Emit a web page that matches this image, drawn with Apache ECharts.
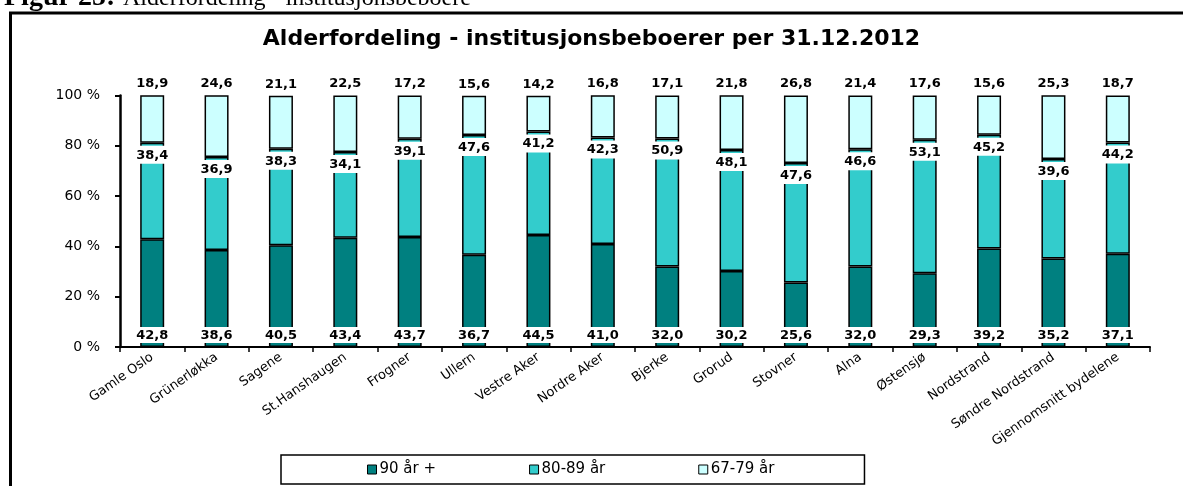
<!DOCTYPE html>
<html>
<head>
<meta charset="utf-8">
<script src="https://cdn.jsdelivr.net/npm/echarts@6/dist/echarts.min.js"></script>
<style>
  html, body { margin: 0; padding: 0; background: #fff; }
  #chart { width: 1183px; height: 486px; }
</style>
</head>
<body>
<div id="chart"></div>
<script>
// bydeler
var categories = ['Gamle Oslo', 'Grünerløkka', 'Sagene', 'St.Hanshaugen', 'Frogner', 'Ullern',
  'Vestre Aker', 'Nordre Aker', 'Bjerke', 'Grorud', 'Stovner', 'Alna', 'Østensjø',
  'Nordstrand', 'Søndre Nordstrand', 'Gjennomsnitt bydelene'];
// andel i prosent per aldersgruppe
var v90 = [42.8, 38.6, 40.5, 43.4, 43.7, 36.7, 44.5, 41.0, 32.0, 30.2, 25.6, 32.0, 29.3, 39.2, 35.2, 37.1];
var v80 = [38.4, 36.9, 38.3, 34.1, 39.1, 47.6, 41.2, 42.3, 50.9, 48.1, 47.6, 46.6, 53.1, 45.2, 39.6, 44.2];
var v67 = [18.9, 24.6, 21.1, 22.5, 17.2, 15.6, 14.2, 16.8, 17.1, 21.8, 26.8, 21.4, 17.6, 15.6, 25.3, 18.7];
var seriesNames = ['90 år +', '80-89 år', '67-79 år'];
var yTicks = [0, 20, 40, 60, 80, 100];

var font = 'DejaVu Sans';
// komma som desimaltegn
var fmt = function (p) { return p.value.toFixed(1).replace('.', ','); };
var lbl = {
  show: true,
  formatter: fmt,
  color: '#000',
  fontFamily: font,
  fontWeight: 'bold',
  fontSize: 13,
  lineHeight: 13
};

var chart = echarts.init(document.getElementById('chart'));
chart.setOption({
  backgroundColor: '#fff',
  animation: false,
  title: {
    text: 'Alderfordeling - institusjonsbeboerer per 31.12.2012',
    left: 'center',
    top: 28,
    padding: 0,
    textStyle: { fontFamily: font, fontWeight: 'bold', fontSize: 22, color: '#000' }
  },
  legend: {
    data: seriesNames,
    left: 281,
    top: 455,
    orient: 'horizontal',
    padding: [7, 90, 7, 86],
    itemGap: 93,
    itemWidth: 9,
    itemHeight: 9,
    icon: 'rect',
    borderColor: '#000',
    borderWidth: 1.5,
    itemStyle: { borderColor: '#000', borderWidth: 1 },
    textStyle: { fontFamily: font, fontSize: 15, color: '#000', padding: [0, 0, 0, -2] }
  },
  grid: { left: 120, right: 33, top: 95.5, bottom: 139 },
  xAxis: {
    type: 'category',
    data: categories,
    axisLine: { lineStyle: { color: '#000', width: 2 } },
    axisTick: { show: true, length: 5, lineStyle: { color: '#000', width: 1.5 } },
    axisLabel: { interval: 0, rotate: 35, margin: 9, color: '#000', fontFamily: font, fontSize: 13 }
  },
  yAxis: {
    type: 'value',
    min: yTicks[0],
    max: yTicks[yTicks.length - 1],
    interval: yTicks[1] - yTicks[0],
    axisLine: { show: true, lineStyle: { color: '#000', width: 2.5 } },
    axisTick: { show: true, length: 5, lineStyle: { color: '#000', width: 2 } },
    splitLine: { show: false },
    axisLabel: { formatter: '{value} %', margin: 20, color: '#000', fontFamily: font, fontSize: 14 }
  },
  series: [
    {
      name: seriesNames[0], type: 'bar', stack: 'tot', data: v90, barWidth: 24,
      itemStyle: { color: '#008080', borderColor: '#000', borderWidth: 1.5 },
      label: Object.assign({}, lbl, { position: 'insideBottom', distance: 4, backgroundColor: '#fff', padding: [2, 3, 1, 3] })
    },
    {
      name: seriesNames[1], type: 'bar', stack: 'tot', data: v80, barWidth: 24,
      itemStyle: { color: '#33CCCC', borderColor: '#000', borderWidth: 1.5 },
      label: Object.assign({}, lbl, { position: 'insideTop', distance: 3, backgroundColor: '#fff', padding: [3, 3, 2, 3] })
    },
    {
      name: seriesNames[2], type: 'bar', stack: 'tot', data: v67, barWidth: 24,
      itemStyle: { color: '#CCFFFF', borderColor: '#000', borderWidth: 1.5 },
      label: Object.assign({}, lbl, { position: 'top', distance: 5 })
    }
  ],
  graphic: [
    // ramme rundt figuren
    { type: 'line', shape: { x1: 9, y1: 13, x2: 1183, y2: 13 }, style: { stroke: '#000', lineWidth: 3 } },
    { type: 'line', shape: { x1: 10.5, y1: 12, x2: 10.5, y2: 486 }, style: { stroke: '#000', lineWidth: 3 } },
    // figurtekst (delvis utenfor bildet)
    { type: 'text', x: 4, y: -2, style: { text: 'Figur 25:', font: 'bold 28px "Liberation Serif"', fill: '#000', verticalAlign: 'middle' } },
    { type: 'text', x: 123, y: -1, style: { text: 'Alderfordeling - institusjonsbeboere', font: '24px "Liberation Serif"', fill: '#000', verticalAlign: 'middle' } }
  ]
});
</script>
</body>
</html>
